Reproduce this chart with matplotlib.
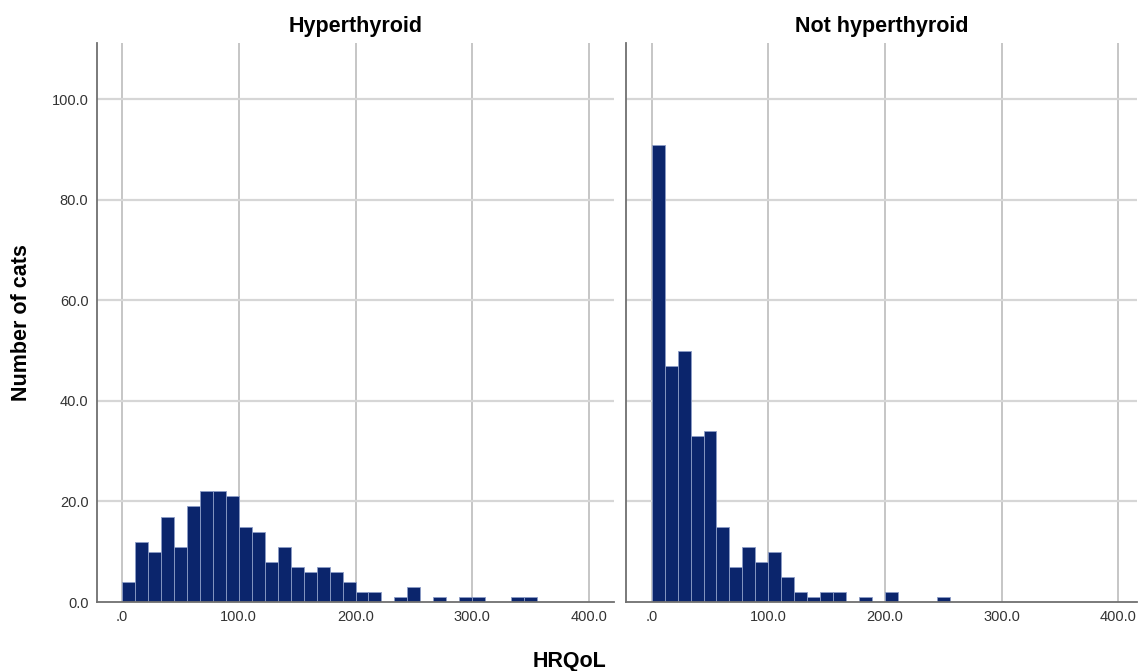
import matplotlib
matplotlib.use("Agg")
import matplotlib.pyplot as plt
import numpy as np

plt.rcParams['font.family'] = ['Liberation Sans', 'DejaVu Sans']

# Datos (número de gatos por intervalo de HRQoL)
ancho_bin = 100 / 9
cuentas_hiper = [4, 12, 10, 17, 11, 19, 22, 22, 21, 15, 14, 8, 11, 7, 6, 7,
                 6, 4, 2, 2, 0, 1, 3, 0, 1, 0, 1, 1, 0, 0, 1, 1]
cuentas_no_hiper = [91, 47, 50, 33, 34, 15, 7, 11, 8, 10, 5, 2, 1, 2, 2, 0,
                    1, 0, 2, 0, 0, 0, 1]
paneles = ["Hyperthyroid", "Not hyperthyroid"]
x_ticks = [0, 100, 200, 300, 400]
x_labels = [".0", "100.0", "200.0", "300.0", "400.0"]
y_ticks = [0, 20, 40, 60, 80, 100]
y_labels = ["0.0", "20.0", "40.0", "60.0", "80.0", "100.0"]

color_barra = "#0b256c"
color_borde = "#8c9cc6"

fig = plt.figure(figsize=(11.38, 6.71), dpi=100)
ax1 = fig.add_axes([0.085, 0.1028, 0.4545, 0.8332])
ax2 = fig.add_axes([0.5498, 0.1028, 0.4492, 0.8332])

limites_x = [(-21.7, 421.4), (-22.3, 416.0)]

for ax, cuentas, titulo, lx in zip([ax1, ax2], [cuentas_hiper, cuentas_no_hiper], paneles, limites_x):
    bordes = np.arange(len(cuentas)) * ancho_bin
    ax.bar(bordes, cuentas, width=ancho_bin, align="edge", color=color_barra,
           edgecolor=color_borde, linewidth=0.6, zorder=3)
    ax.set_xlim(*lx)
    ax.set_ylim(0, 111.2)
    ax.set_xticks(x_ticks)
    ax.set_xticklabels(x_labels)
    ax.set_yticks(y_ticks)
    for x in x_ticks:
        ax.axvline(x, color="#c2c2c2", linewidth=1.3, zorder=1)
    for y in y_ticks[1:]:
        ax.axhline(y, color="#d6d6d6", linewidth=1.6, zorder=1)
    for s in ["top", "right"]:
        ax.spines[s].set_visible(False)
    for s in ["left", "bottom"]:
        ax.spines[s].set_color("#707070")
        ax.spines[s].set_linewidth(1.3)
    ax.spines["bottom"].set_zorder(4)
    ax.tick_params(length=0, labelsize=10.5, labelcolor="#333333", pad=6)
    ax.set_title(titulo, fontsize=15.5, fontweight="bold", pad=8)

ax1.set_yticklabels(y_labels)
ax2.set_yticklabels([])
ax1.set_ylabel("Number of cats", fontsize=15.5, fontweight="bold", labelpad=14)
fig.text(0.5, 0.006, "HRQoL", ha="center", va="baseline", fontsize=15.5, fontweight="bold")

plt.savefig("out.png", dpi=100)
